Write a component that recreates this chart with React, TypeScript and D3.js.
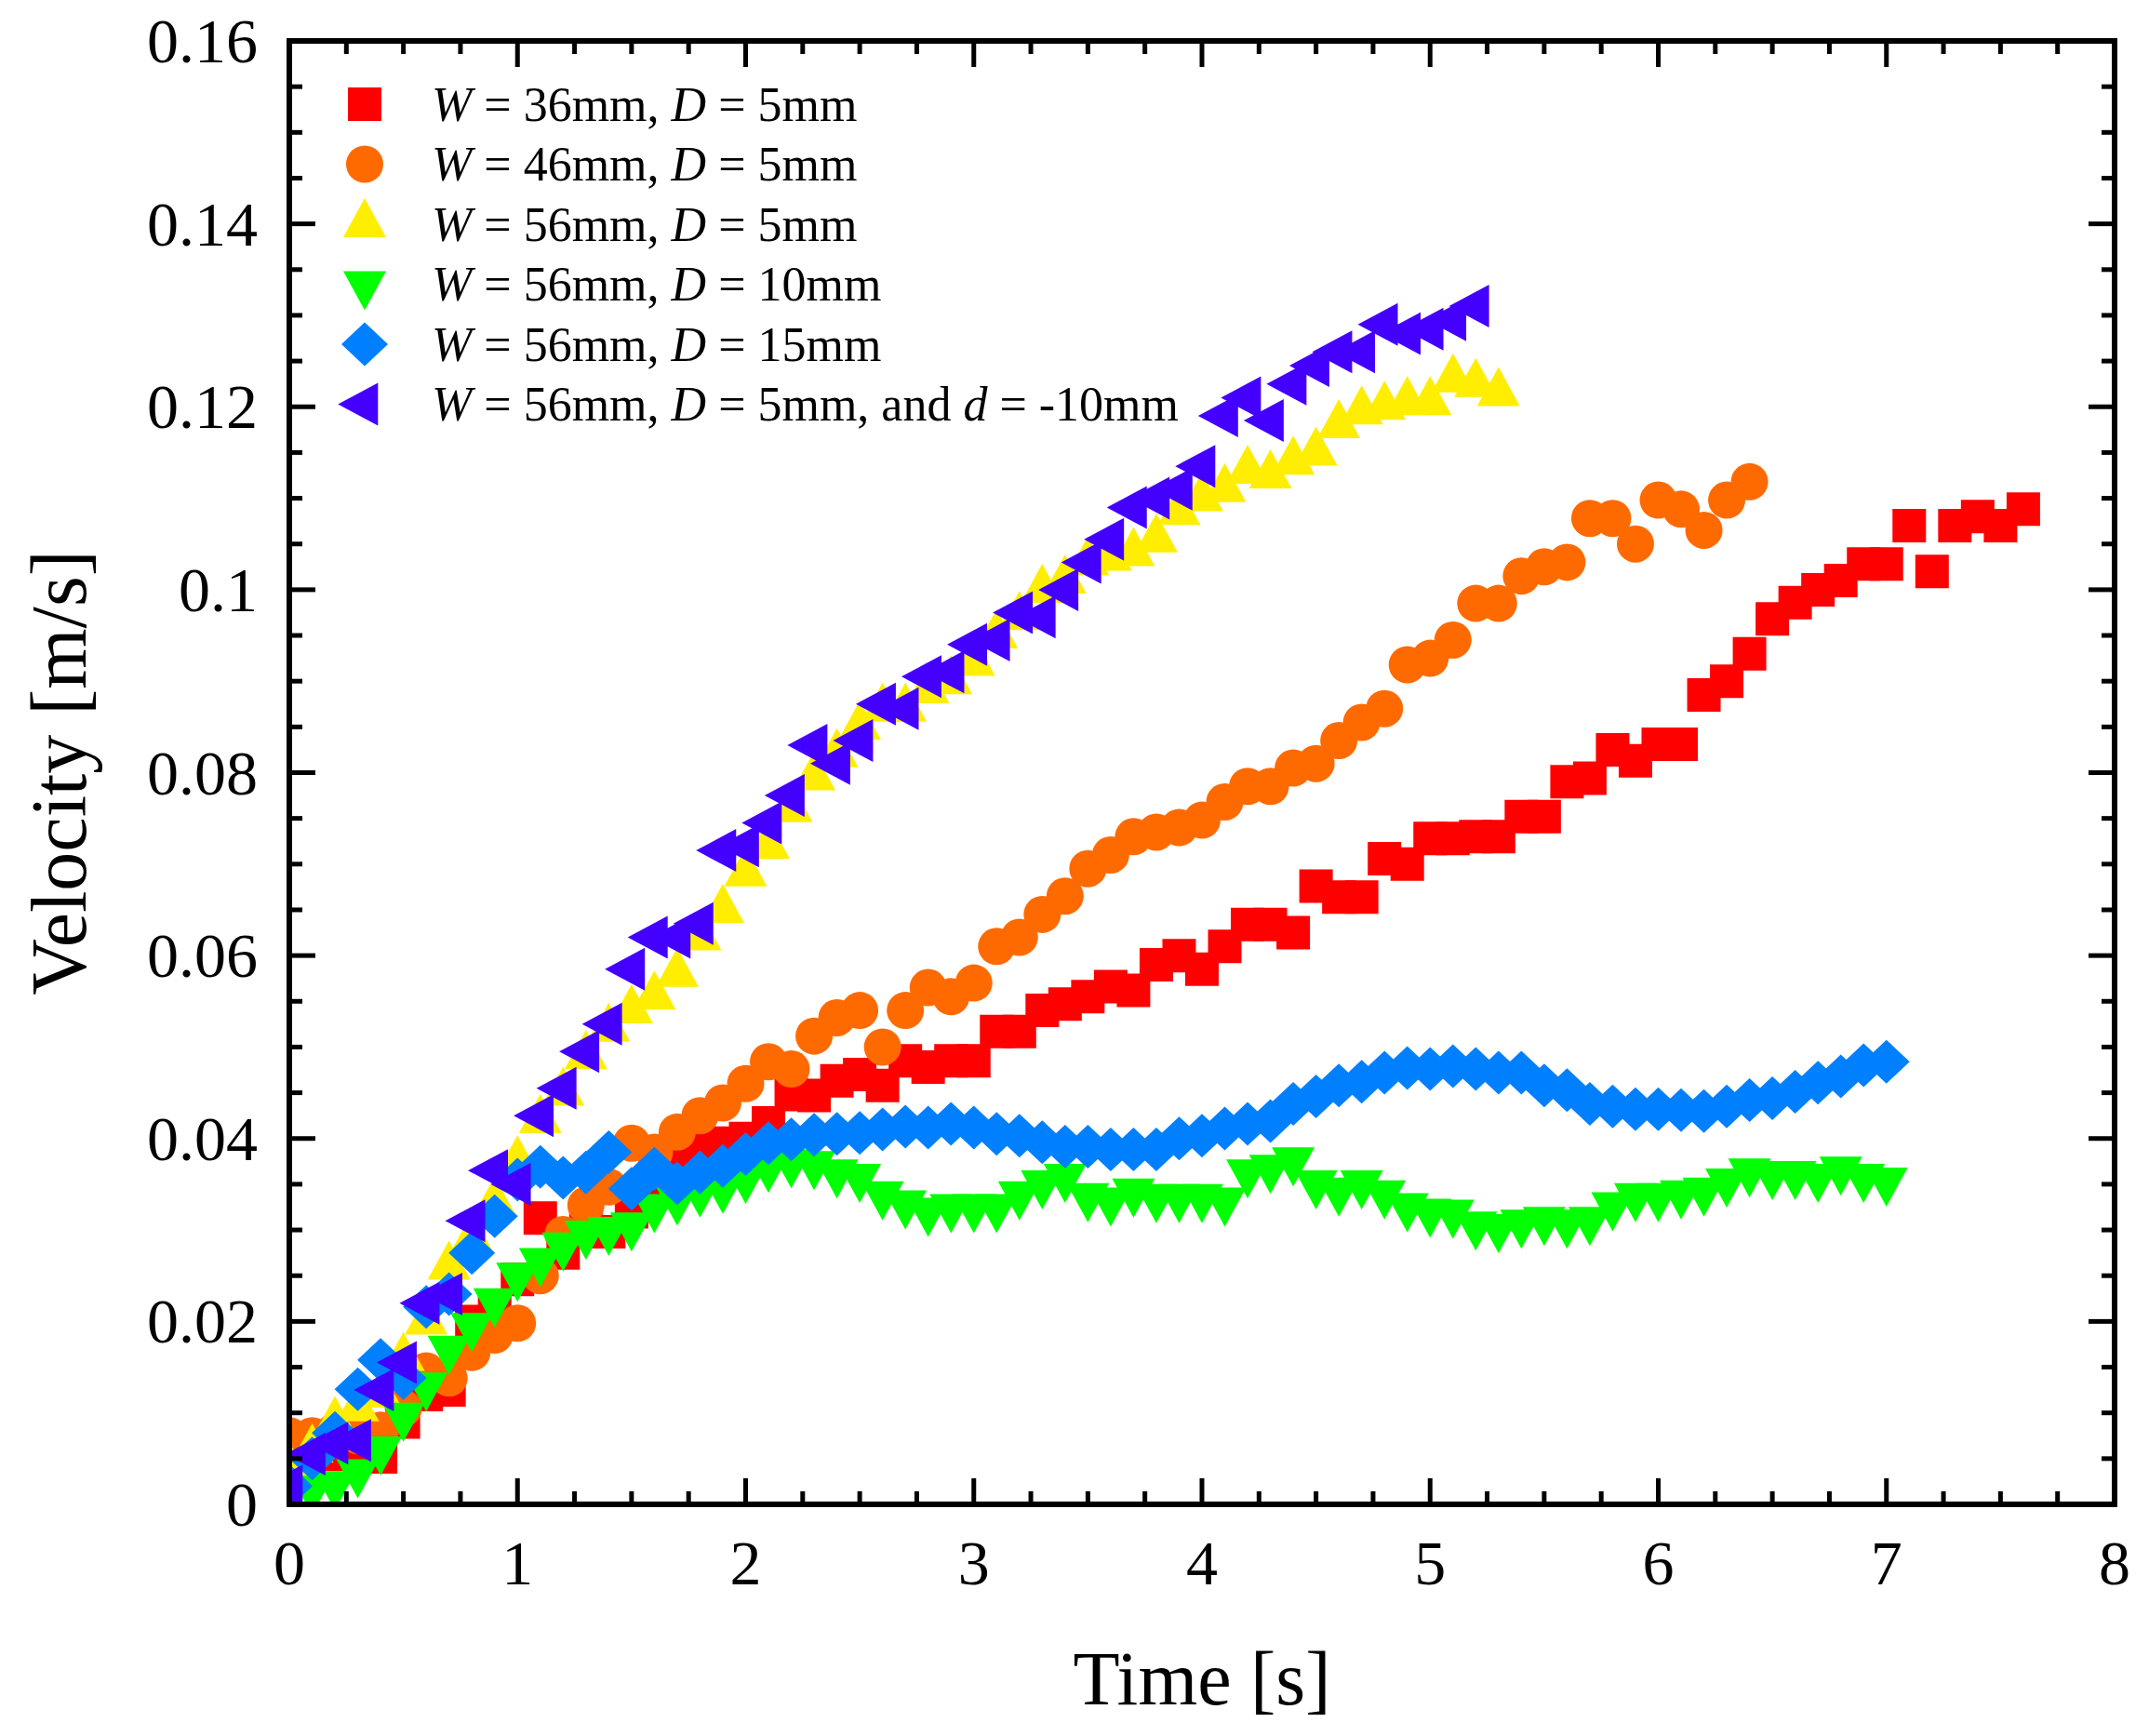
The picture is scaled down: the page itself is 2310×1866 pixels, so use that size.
import * as d3 from 'd3'

// time axis (s), sampled every 0.1 s
const time = [
  0, 0.1, 0.2, 0.3, 0.4, 0.5, 0.6, 0.7, 0.8, 0.9,
  1.0, 1.1, 1.2, 1.3, 1.4, 1.5, 1.6, 1.7, 1.8, 1.9,
  2.0, 2.1, 2.2, 2.3, 2.4, 2.5, 2.6, 2.7, 2.8, 2.9,
  3.0, 3.1, 3.2, 3.3, 3.4, 3.5, 3.6, 3.7, 3.8, 3.9,
  4.0, 4.1, 4.2, 4.3, 4.4, 4.5, 4.6, 4.7, 4.8, 4.9,
  5.0, 5.1, 5.2, 5.3, 5.4, 5.5, 5.6, 5.7, 5.8, 5.9,
  6.0, 6.1, 6.2, 6.3, 6.4, 6.5, 6.6, 6.7, 6.8, 6.9,
  7.0, 7.1, 7.2, 7.3, 7.4, 7.5, 7.6,
]

// W = 36mm, D = 5mm  (t = 0 .. 7.6)
const w36d5 = [
  0.004, 0.006, 0.0055, 0.006, 0.0052, 0.009, 0.012, 0.0125, 0.02, 0.021,
  0.0246, 0.0313, 0.0275, 0.03, 0.0298, 0.032, 0.0355, 0.037, 0.0395, 0.0395,
  0.04, 0.0417, 0.0448, 0.0447, 0.0463, 0.047, 0.0458, 0.0485, 0.0478, 0.0485,
  0.0485, 0.0517, 0.0517, 0.054, 0.0547, 0.0555, 0.0566, 0.0562, 0.059, 0.06,
  0.0585, 0.061, 0.0634, 0.0634, 0.0625, 0.0676, 0.0664, 0.0664, 0.0706, 0.07,
  0.0728, 0.0728, 0.073, 0.073, 0.0752, 0.0752, 0.079, 0.0794, 0.0825, 0.0813,
  0.0831, 0.0831, 0.0885, 0.09, 0.093, 0.0968, 0.0986, 0.1, 0.101, 0.1028,
  0.1028, 0.107, 0.102, 0.107, 0.108, 0.107, 0.1088,
]

// W = 46mm, D = 5mm  (t = 0 .. 6.4)
const w46d5 = [
  0.0075, 0.0075, 0.008, 0.0075, 0.0081, 0.0105, 0.0146, 0.0138, 0.0166, 0.0185,
  0.0198, 0.025, 0.0295, 0.0327, 0.0347, 0.0395, 0.0385, 0.0407, 0.0425, 0.0439,
  0.046, 0.0484, 0.0476, 0.0512, 0.0532, 0.054, 0.05, 0.054, 0.0565, 0.0555,
  0.057, 0.061, 0.062, 0.0645, 0.0665, 0.0695, 0.071, 0.073, 0.0735, 0.074,
  0.0748, 0.0768, 0.0785, 0.0785, 0.0805, 0.081, 0.0835, 0.0855, 0.087, 0.0918,
  0.0925, 0.0945, 0.0985, 0.0985, 0.1015, 0.1025, 0.103, 0.1078, 0.1078, 0.105,
  0.1098, 0.1088, 0.1065, 0.1098, 0.1118,
]

// W = 56mm, D = 5mm  (t = 0 .. 5.3)
const w56d5 = [
  0.004, 0.006, 0.009, 0.0105, 0.012, 0.016, 0.02, 0.026, 0.029, 0.033,
  0.0375, 0.042, 0.045, 0.049, 0.052, 0.054, 0.0555, 0.058, 0.062, 0.065,
  0.069, 0.072, 0.076, 0.0795, 0.082, 0.085, 0.087, 0.087, 0.089, 0.09,
  0.092, 0.095, 0.097, 0.1, 0.101, 0.103, 0.1035, 0.104, 0.1055, 0.1085,
  0.11, 0.111, 0.113, 0.1125, 0.114, 0.115, 0.118, 0.1195, 0.12, 0.1205,
  0.1205, 0.123, 0.1225, 0.1215,
]

// W = 56mm, D = 10mm  (t = 0.1 .. 7.0)
const w56d10 = [
  0.0017, 0.0022, 0.0035, 0.006, 0.0097, 0.013, 0.017, 0.0195, 0.0222,
  0.025, 0.0266, 0.0283, 0.0296, 0.03, 0.0305, 0.0325, 0.0333, 0.0342, 0.0346,
  0.0357, 0.0369, 0.0374, 0.0372, 0.0363, 0.0358, 0.0339, 0.0329, 0.0321, 0.0325,
  0.0325, 0.0325, 0.0339, 0.0351, 0.0358, 0.0337, 0.0332, 0.0342, 0.0336, 0.0336,
  0.0336, 0.0332, 0.0363, 0.0368, 0.0376, 0.0351, 0.0343, 0.0351, 0.034, 0.0326,
  0.032, 0.0319, 0.0306, 0.0303, 0.0308, 0.0311, 0.0308, 0.0311, 0.0327, 0.0337,
  0.0337, 0.034, 0.0343, 0.0353, 0.0364, 0.0361, 0.0361, 0.0358, 0.0366, 0.0358,
  0.0354,
]

// W = 56mm, D = 15mm  (t = 0 .. 7.0)
const w56d15 = [
  0.002, 0.005, 0.0078, 0.0126, 0.0158, 0.0138, 0.0216, 0.023, 0.0275, 0.0315,
  0.0355, 0.0369, 0.0357, 0.0363, 0.0385, 0.0345, 0.0367, 0.0351, 0.0363, 0.037,
  0.0383, 0.0395, 0.0399, 0.0404, 0.0405, 0.0406, 0.041, 0.0413, 0.0412, 0.0416,
  0.0412, 0.0405, 0.0403, 0.0396, 0.0391, 0.0391, 0.0388, 0.0388, 0.0388, 0.04,
  0.0403, 0.0411, 0.0416, 0.0419, 0.0438, 0.0446, 0.0458, 0.0462, 0.0472, 0.0477,
  0.0476, 0.0479, 0.0476, 0.0472, 0.0472, 0.0458, 0.0453, 0.0438, 0.0435, 0.0432,
  0.0432, 0.0431, 0.043, 0.0435, 0.0442, 0.0444, 0.0451, 0.0461, 0.0468, 0.048,
  0.0484,
]

// W = 56mm, D = 5mm, d = -10mm  (t = 0 .. 5.2)
const w56d5dm10 = [
  0.002, 0.0055, 0.0067, 0.007, 0.0125, 0.0155, 0.022, 0.023, 0.031, 0.0365,
  0.035, 0.0425, 0.0455, 0.0495, 0.0525, 0.0585, 0.062, 0.062, 0.0635, 0.0715,
  0.072, 0.0745, 0.0775, 0.083, 0.081, 0.0835, 0.0875, 0.087, 0.0905, 0.091,
  0.094, 0.0945, 0.0975, 0.097, 0.1, 0.103, 0.1055, 0.109, 0.11, 0.111,
  0.1135, 0.119, 0.121, 0.1185, 0.1225, 0.1245, 0.126, 0.126, 0.129, 0.128,
  0.1285, 0.1295, 0.131,
]

const xTickValues = [0, 1, 2, 3, 4, 5, 6, 7, 8]
const xTickLabels = ['0', '1', '2', '3', '4', '5', '6', '7', '8']
const yTickValues = [0, 0.02, 0.04, 0.06, 0.08, 0.1, 0.12, 0.14, 0.16]
const yTickLabels = ['0', '0.02', '0.04', '0.06', '0.08', '0.1', '0.12', '0.14', '0.16']

const legendW = ['36mm', '46mm', '56mm', '56mm', '56mm', '56mm']
const legendD = ['5mm', '5mm', '5mm', '10mm', '15mm', '5mm']

const FONT = "'Liberation Serif', 'Times New Roman', serif"

// marker paths, centred like Origin (triangles on their centroid)
const shapes: Record<string, string> = {
  square: 'M-18,-18h36v36h-36Z',
  circle: 'M-20,0a20,20 0 1,0 40,0a20,20 0 1,0 -40,0Z',
  up: 'M0,-28L23,14L-23,14Z',
  down: 'M0,28L23,-14L-23,-14Z',
  diamond: 'M0,-23.5L25,0L0,23.5L-25,0Z',
  left: 'M-28.7,0L14.3,-23L14.3,23Z',
}

const series = [
  { v: w36d5, start: 0, shape: 'square', color: '#ff0000' },
  { v: w46d5, start: 0, shape: 'circle', color: '#ff6a00' },
  { v: w56d5, start: 0, shape: 'up', color: '#ffee00' },
  { v: w56d10, start: 1, shape: 'down', color: '#00ff00' },
  { v: w56d15, start: 0, shape: 'diamond', color: '#0080ff' },
  { v: w56d5dm10, start: 0, shape: 'left', color: '#4400ff' },
]

export default function App() {
  const width = 2310
  const height = 1866
  const left = 311
  const right = 2273
  const top = 44
  const bottom = 1617

  const x = d3.scaleLinear().domain([0, 8]).range([left, right])
  const y = d3.scaleLinear().domain([0, 0.16]).range([bottom, top])

  const xMinor = d3.range(0, 8.001, 0.25).filter((t) => Math.abs(t - Math.round(t)) > 0.01)
  const yMinor = d3.range(0, 0.1601, 0.005).filter((v) => Math.abs(v / 0.02 - Math.round(v / 0.02)) > 0.01)

  const majorLen = 28
  const minorLen = 14
  const tickW = 5

  return (
    <div style={{ position: 'absolute', left: 0, top: 0 }}>
      <svg width={width} height={height} style={{ display: 'block', background: '#fff' }}>
        <defs>
          <clipPath id="plot">
            <rect x={left} y={top} width={right - left} height={bottom - top} />
          </clipPath>
        </defs>

        {/* data */}
        <g clipPath="url(#plot)">
          {series.map((s, si) => (
            <g key={si} fill={s.color}>
              {s.v.map((v, i) => (
                <path
                  key={i}
                  d={shapes[s.shape]}
                  transform={`translate(${x(time[i + s.start])},${y(v)})`}
                />
              ))}
            </g>
          ))}
        </g>

        {/* ticks, inside on all four sides */}
        <g stroke="#000" strokeWidth={tickW}>
          {xTickValues.map((t) => (
            <g key={'xM' + t}>
              <line x1={x(t)} x2={x(t)} y1={bottom} y2={bottom - majorLen} />
              <line x1={x(t)} x2={x(t)} y1={top} y2={top + majorLen} />
            </g>
          ))}
          {xMinor.map((t) => (
            <g key={'xm' + t}>
              <line x1={x(t)} x2={x(t)} y1={bottom} y2={bottom - minorLen} />
              <line x1={x(t)} x2={x(t)} y1={top} y2={top + minorLen} />
            </g>
          ))}
          {yTickValues.map((v) => (
            <g key={'yM' + v}>
              <line x1={left} x2={left + majorLen} y1={y(v)} y2={y(v)} />
              <line x1={right} x2={right - majorLen} y1={y(v)} y2={y(v)} />
            </g>
          ))}
          {yMinor.map((v) => (
            <g key={'ym' + v}>
              <line x1={left} x2={left + minorLen} y1={y(v)} y2={y(v)} />
              <line x1={right} x2={right - minorLen} y1={y(v)} y2={y(v)} />
            </g>
          ))}
        </g>

        {/* frame */}
        <rect
          x={left}
          y={top}
          width={right - left}
          height={bottom - top}
          fill="none"
          stroke="#000"
          strokeWidth={6}
        />

        {/* tick labels */}
        <g fontFamily={FONT} fontSize={68} fill="#000">
          {xTickValues.map((t, i) => (
            <text key={'xl' + t} x={x(t)} y={1703} textAnchor="middle">
              {xTickLabels[i]}
            </text>
          ))}
          {yTickValues.map((v, i) => (
            <text key={'yl' + v} x={277} y={y(v)} dy="0.34em" textAnchor="end">
              {yTickLabels[i]}
            </text>
          ))}
        </g>

        {/* axis titles */}
        <text
          x={(left + right) / 2}
          y={1832}
          textAnchor="middle"
          fontFamily={FONT}
          fontSize={82}
        >
          Time [s]
        </text>
        <text
          transform={`translate(92,${(top + bottom) / 2}) rotate(-90)`}
          textAnchor="middle"
          fontFamily={FONT}
          fontSize={84}
        >
          Velocity [m/s]
        </text>

        {/* legend */}
        <g fontFamily={FONT} fontSize={52}>
          {series.map((s, i) => {
            const cy = 112 + i * 64.5
            return (
              <g key={'lg' + i}>
                <path d={shapes[s.shape]} fill={s.color} transform={`translate(392,${cy})`} />
                <text x={464} y={cy} dy="0.34em">
                  <tspan fontStyle="italic">W</tspan>
                  {` = ${legendW[i]}, `}
                  <tspan fontStyle="italic">D</tspan>
                  {` = ${legendD[i]}`}
                  {i === 5 ? ', and ' : ''}
                  {i === 5 ? <tspan fontStyle="italic">d</tspan> : null}
                  {i === 5 ? ' = -10mm' : ''}
                </text>
              </g>
            )
          })}
        </g>
      </svg>
    </div>
  )
}
